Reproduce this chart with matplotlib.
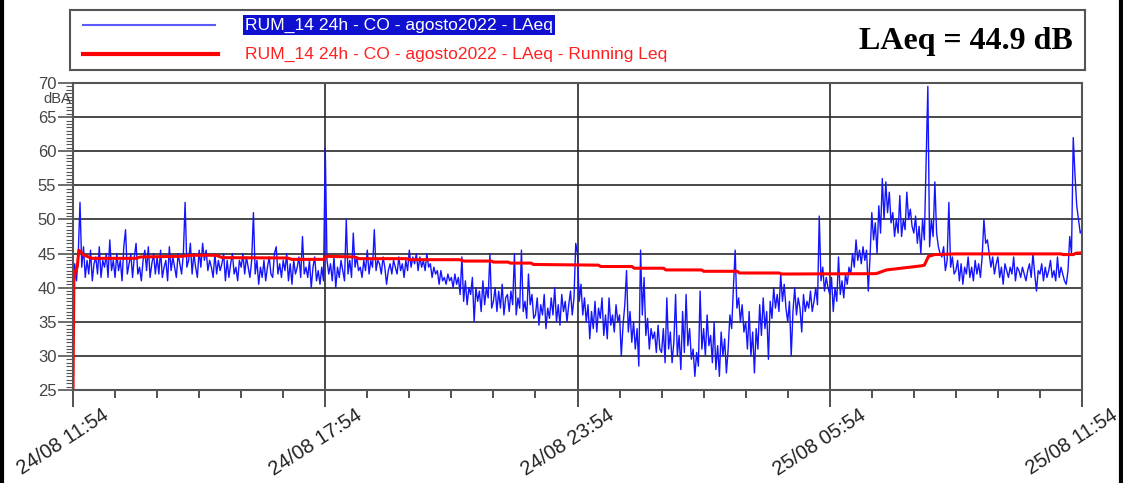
import numpy as np
import matplotlib.pyplot as plt
import matplotlib.transforms as mtransforms
from matplotlib.ticker import MultipleLocator

plt.rcParams['font.family'] = ['Liberation Sans', 'DejaVu Sans']

# LAeq every 2.5 minutes, from 24/08 11:54 to 25/08 11:54 (one row per hour)
step_min = 2.5
laeq = [
    42, 43.5, 41, 45, 52.5, 43, 46, 41.5, 44, 42, 45.5, 41, 43.5, 44.5, 42, 46, 41.5, 44, 43, 45, 41.5, 47, 42.5, 44,
    41.5, 45, 42.5, 44, 41, 46, 48.5, 42, 43.5, 45, 41.5, 44.5, 46.5, 42, 43, 41, 44, 45.5, 42.5, 46, 41.5, 43.5, 45, 42,
    44.5, 42, 45.5, 41.5, 43, 44, 41, 46, 42.5, 44.5, 43, 41.5, 45, 43.5, 42, 45, 52.5, 43, 44, 46.5, 42, 45, 43, 41.5,
    45.5, 43, 46.5, 44, 45.5, 42.5, 44, 43, 41.5, 45, 42, 44, 42.5, 43.5, 45, 41, 44, 41.5, 43.5, 45, 42, 43, 41, 44,
    43, 45, 42, 44.5, 43, 41.5, 44, 51, 42, 44, 40.5, 43, 41.5, 44, 41, 43, 44.5, 42, 41.5, 45, 46, 42, 43.5, 41.5,
    44, 42.5, 45, 41, 43.5, 40.5, 44, 42, 43, 44.5, 41.5, 47.5, 42, 43, 41.5, 44, 40, 43, 44.5, 41, 42.5, 40.5, 43, 41,
    60.5, 44, 42, 43.5, 41, 44.5, 40, 43, 41.5, 44, 42.5, 41, 50, 42, 44, 41.5, 48, 43, 44.5, 42.5, 43, 41.5, 44, 42.5,
    45.5, 42, 44, 43, 48.5, 42.5, 44, 43.5, 42, 44.5, 43, 40.5, 42.5, 43.5, 42, 44, 43, 42, 44.5, 42.5, 43.5, 41.5, 44, 42.5,
    45.5, 43, 44.5, 43.5, 45, 42.5, 44.5, 43, 44, 42.5, 45, 43, 43.5, 41.5, 43, 42, 42.5, 40.5, 42.5, 41, 41.5, 40.5, 42, 41,
    41.5, 40, 42, 40.5, 41.5, 39, 44.5, 38, 41, 37.5, 40, 39, 41.5, 35, 40, 38, 39.5, 36.5, 41, 37.5, 40, 38.5, 45, 37,
    38, 40, 36.5, 39.5, 37, 40.5, 36, 38.5, 39, 36.5, 39.5, 37.5, 45, 36, 38.5, 37, 45.5, 36.5, 38, 35.5, 42, 37.5, 39, 35.5,
    36, 38.5, 34.5, 37.5, 36, 39, 34, 37, 35.5, 38.5, 36, 40, 35, 37.5, 34.5, 39, 36.5, 38, 35, 37.5, 39.5, 36, 38.5, 46.5,
    45, 38, 40.5, 36, 38.5, 35, 37.5, 32.5, 36.5, 34, 38, 33.5, 37, 35.5, 38.5, 33, 36, 32.5, 38.5, 34.5, 36, 33.5, 37.5, 35,
    36, 30, 34.5, 37.5, 42.5, 33.5, 36.5, 32, 35, 31, 34, 28.5, 45.5, 36, 41.5, 33, 35.5, 31, 34, 32.5, 33.5, 30.5, 34.5, 31,
    30.5, 34, 29, 38.5, 31, 33.5, 29, 32, 39, 30, 33, 28, 36.5, 30.5, 39, 31.5, 34, 29.5, 31, 27, 30.5, 28.5, 39.5, 31,
    34, 30, 36, 31.5, 33, 29, 35, 28, 31.5, 27, 33.5, 30, 32.5, 27.5, 31, 36, 34, 40, 45.5, 37, 38.5, 35, 37.5, 33.5,
    35, 31, 36.5, 30, 33.5, 27.5, 34, 31, 37.5, 33, 38.5, 34, 36.5, 29.5, 38, 35.5, 40, 37, 39, 36.5, 42, 38, 40.5, 37,
    35, 38, 30, 36.5, 40, 36, 38.5, 37, 33.5, 39, 36.5, 38, 37, 39.5, 36.5, 38, 40, 37.5, 50.5, 41, 43, 39.5, 41.5, 40,
    39, 41.5, 36.5, 40, 38, 44.5, 39, 41, 38.5, 42, 40.5, 43, 42, 45, 43, 47, 44, 45.5, 43.5, 46, 44, 45.5, 39.5, 44.5,
    51, 47, 49.5, 45, 52, 48, 56, 50, 55.5, 51, 54, 49.5, 51, 47.5, 50, 48, 53.5, 47.5, 50, 48.5, 54, 50, 51.5, 49,
    48, 50.5, 46.5, 49, 45, 50, 47, 58, 69.5, 46, 50, 47.5, 55.5, 48, 46, 45, 44.5, 46, 42.5, 44, 52.5, 43, 44.5, 42,
    42.5, 44, 41, 43.5, 40.5, 43, 42, 44.5, 41.5, 43, 41, 44, 42, 43.5, 41.5, 44.5, 50, 46.5, 47, 45, 43, 44.5, 42, 43.5,
    44.5, 41.5, 43, 40.5, 43.5, 42.5, 41.5, 43, 42, 44.5, 41, 43, 42.5, 41.5, 43, 42, 41, 42.5, 43.5, 41.5, 45, 42, 39.5, 42.5,
    42, 43.5, 41, 43, 41.5, 42.5, 44, 41.5, 42.5, 41, 44.5, 41.5, 43, 42, 41, 40.5, 42.5, 47.5, 45, 62, 56.5, 52, 50, 48,
    48.5,
]

# running Leq (hours from start, dB)
run_hours = [0, 0.02, 0.06, 0.1, 0.14, 0.25, 0.45, 1.5, 1.6, 2.6, 2.8, 3.4, 3.55,
             5.1, 5.2, 5.98, 6.02, 6.7, 6.8, 7.95, 8.0, 9.2, 9.3, 9.95, 10.0,
             10.35, 10.4, 10.9, 10.95, 12.5, 12.55, 13.3, 13.35, 14.05, 14.1,
             14.95, 15.0, 15.8, 15.85, 16.8, 16.85, 19.1, 19.35, 20.18, 20.25,
             20.35, 20.5, 21.0, 23.5, 23.55, 23.8, 23.85, 24.0]
run_leq = [25, 41, 42.5, 43, 45.5, 44.8, 44.3, 44.3, 44.5, 44.6, 44.75, 44.75, 44.4,
           44.35, 44.15, 44.15, 44.6, 44.5, 44.25, 44.25, 44.1, 44.1, 43.9, 43.9, 43.75,
           43.75, 43.6, 43.6, 43.4, 43.3, 43.1, 43.1, 42.85, 42.85, 42.6,
           42.6, 42.4, 42.4, 42.15, 42.15, 42.0, 42.05, 42.6, 43.2, 43.3,
           44.6, 44.85, 44.95, 44.95, 44.85, 44.85, 45.05, 45.1]
start_peak = [25, 65.5]

tick_labels = ['24/08 11:54', '24/08 17:54', '24/08 23:54', '25/08 05:54', '25/08 11:54']
tick_hours = [0, 6, 12, 18, 24]
total = 'LAeq = 44.9 dB'
name_blue = 'RUM_14 24h - CO - agosto2022 - LAeq'
name_red = 'RUM_14 24h - CO - agosto2022 - LAeq - Running Leq'

hours = np.arange(len(laeq)) * step_min / 60

fig = plt.figure(figsize=(11.23, 4.83), dpi=100)

# legend box
lg = fig.add_axes([70 / 1123, 1 - 70 / 483, 1015 / 1123, 60 / 483])
lg.set_xlim(0, 1015)
lg.set_ylim(60, 0)
lg.set_xticks([])
lg.set_yticks([])
for s in lg.spines.values():
    s.set_color('#555555')
    s.set_linewidth(1.5)
lg.plot([13, 145], [15, 15], color='#5a5aff', lw=1.5)
lg.plot([13, 148], [44, 44], color='#ff0000', lw=3)
lg.text(175, 15, name_blue, color='white', fontsize=12.6, va='center',
        bbox=dict(facecolor='#1010d0', edgecolor='none', pad=1.5))
lg.text(175, 44, name_red, color='#ff2020', fontsize=12.6, va='center')
lg.text(1003, 31, total, fontsize=23, fontweight='bold', ha='right', va='center',
        family=['Liberation Serif', 'DejaVu Serif'])

ax = fig.add_axes([73 / 1123, 1 - 390 / 483, 1009 / 1123, 307 / 483])
ax.plot(hours, laeq, color='#1414ff', lw=1.0)
ax.plot([0, 0], start_peak, color='#ff0000', lw=1.2, ls=(0, (2, 1)))
ax.plot(run_hours, run_leq, color='#ff0000', lw=2.2)

ax.set_xlim(0, 24)
ax.set_ylim(25, 70)
ax.set_xticks(tick_hours)
ax.set_xticklabels([])
ax.xaxis.set_minor_locator(MultipleLocator(1))
ax.yaxis.set_major_locator(MultipleLocator(5))
ax.yaxis.set_minor_locator(MultipleLocator(0.5))
ax.tick_params(axis='x', which='major', length=12, width=1.2, color='#333333')
ax.tick_params(axis='x', which='minor', length=6, width=1.2, color='#333333')
ax.tick_params(axis='y', which='major', length=11, width=1.2, color='#555555',
               labelsize=12, labelcolor='#444444', pad=1)
ax.tick_params(axis='y', which='minor', length=5, width=0.8, color='#555555')
ax.grid(True, which='major', color='#2a2a2a', lw=1.2)
for s in ax.spines.values():
    s.set_color('#555555')
    s.set_linewidth(1.5)

# rotated date labels under the ticks
lab_tr = ax.get_xaxis_transform() + mtransforms.ScaledTranslation(-0.10, -0.52, fig.dpi_scale_trans)
for h, lab in zip(tick_hours, tick_labels):
    ax.text(h, 0, lab, transform=lab_tr, rotation=33, ha='center', va='center',
            fontsize=14.5, color='#222222')

fig.text(71 / 1123, 1 - 99 / 483, 'dBA', fontsize=10.5, color='#444444', ha='right', va='center')

# page border
fig.add_artist(plt.Line2D([0.0015, 0.0015], [0, 1], color='black', lw=3,
                          transform=fig.transFigure))
fig.add_artist(plt.Line2D([0.9985, 0.9985], [0, 1], color='black', lw=3,
                          transform=fig.transFigure))

fig.savefig('out.png', dpi=100)
